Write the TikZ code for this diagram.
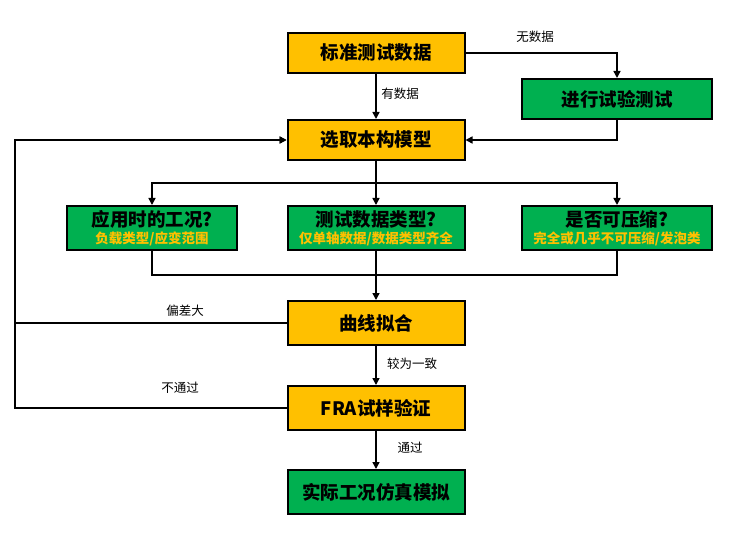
\documentclass[tikz,border=0pt]{standalone}
\usepackage{fontspec}
\setmainfont{Noto Sans CJK SC}
\usetikzlibrary{arrows.meta}
\definecolor{boxorange}{HTML}{FFC000}
\definecolor{boxgreen}{HTML}{00B050}

\begin{document}
\begin{tikzpicture}[x=1pt,y=-1pt,>={Triangle[length=7pt,width=7pt]},line width=1.5pt,
  step box/.style={draw,line width=2pt,fill=boxorange,minimum width=177pt,minimum height=40pt,inner sep=0pt,font=\fontsize{18.5}{20}\selectfont\bfseries},
  test box/.style={step box,fill=boxgreen},
  ask box/.style={test box,minimum height=44pt,align=center},
  note/.style={font=\fontsize{12.5}{14}\selectfont,inner sep=1pt}]
  \useasboundingbox (0,0) rectangle (733,537);

  \node[step box] (std) at (376,53) {标准测试数据};
  \node[test box,minimum width=190pt] (exp) at (617,99) {进行试验测试};
  \node[step box] (sel) at (376,140) {选取本构模型};
  \node[ask box,minimum width=170pt] (cond) at (152,228) {应用时的工况?\\[-3pt]{\fontsize{13.5}{14}\selectfont\color{boxorange}负载类型/应变范围}};
  \node[ask box] (kind) at (376,228) {测试数据类型?\\[-3pt]{\fontsize{13.5}{14}\selectfont\color{boxorange}仅单轴数据/数据类型齐全}};
  \node[ask box,minimum width=190pt] (comp) at (617,228) {是否可压缩?\\[-3pt]{\fontsize{13.5}{14}\selectfont\color{boxorange}完全或几乎不可压缩/发泡类}};
  \node[step box,minimum height=44pt] (fit) at (376,323) {曲线拟合};
  \node[step box,minimum height=44pt] (fra) at (376,408) {FRA试样验证};
  \node[test box,minimum height=44pt] (sim) at (376,492) {实际工况仿真模拟};

  \coordinate (split) at (376,183);
  \coordinate (merge) at (376,275);
  \coordinate (back) at (15,140);

  % labels
  \node[note] (nodata) at (535,37) {无数据};
  \node[note] (hasdata) at (400,94) {有数据};
  \node[note] (dev) at (185,311) {偏差大};
  \node[note] (agree) at (412,364) {较为一致};
  \node[note] (fail) at (180,388) {不通过};
  \node[note] (pass) at (410,448) {通过};

  \draw[->] (std) -- (sel);
  \draw[->] (std.east) -| (exp.north);
  \draw[->] (exp.south) |- (sel.east);
  \draw (sel.south) -- (split);
  \draw[->] (split) -| (cond.north);
  \draw[->] (split) -- (kind.north);
  \draw[->] (split) -| (comp.north);
  \draw (cond.south) |- (merge);
  \draw (comp.south) |- (merge);
  \draw[->] (kind.south) -- (fit.north);
  \draw[->] (fit.west) -| (back) -- (sel.west);
  \draw[->] (fra.west) -| (back) -- (sel.west);
  \draw[->] (fit) -- (fra);
  \draw[->] (fra) -- (sim);
\end{tikzpicture}
\end{document}
